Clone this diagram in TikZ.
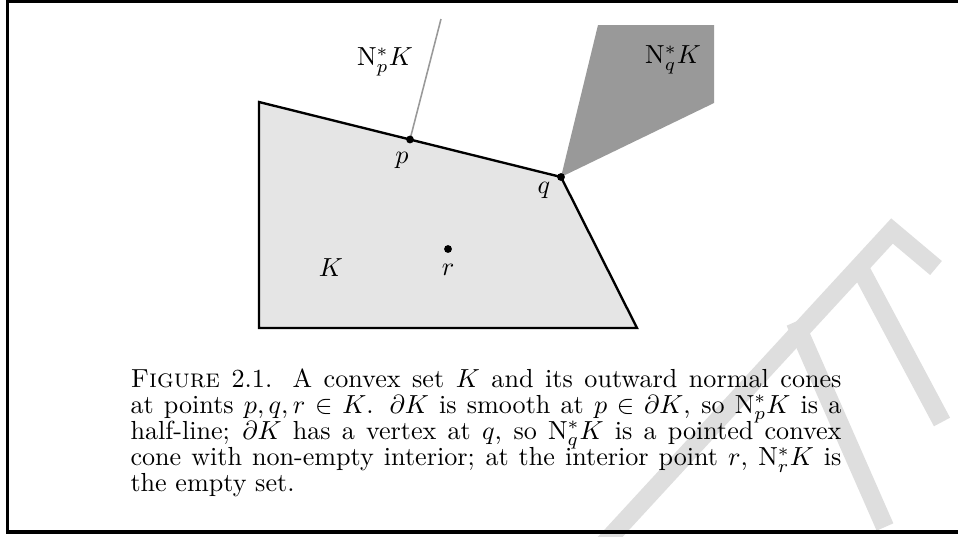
\documentclass[tikz,border=0pt]{standalone}
\usepackage{amsmath,amssymb}
\usepackage{tikz}
\usetikzlibrary{positioning,calc}
\newcommand{\ncone}[1]{\mathrm{N}^{*}_{#1}K}
\definecolor{setfill}{gray}{0.9}
\definecolor{conefill}{gray}{0.6}
\definecolor{raygray}{gray}{0.6}
\definecolor{wmark}{gray}{0.87}

\begin{document}
\begin{tikzpicture}[
    x=0.383pt, y=-0.383pt,
    font=\fontsize{10}{10}\selectfont,
    setedge/.style={draw=black, line width=0.9pt, fill=setfill},
    normalray/.style={draw=raygray, line width=0.6pt},
    dotpt/.style={circle, fill=black, inner sep=0pt, minimum size=3pt},
    lbl/.style={inner sep=0pt},
    wm/.style={draw=wmark, line width=7pt},
    frameline/.style={draw=black, line width=1.2pt},
    captxt/.style={inner sep=0pt, text width=272.3pt, align=justify,
                   execute at begin node={\lineskiplimit=-10pt}}
  ]
  \useasboundingbox (0,0) rectangle (958,536);

  % watermark in the background
  \draw[wm] (600,548) -- (892,231) -- (936,268);
  \draw[wm] (862,272) -- (942,422);
  \draw[wm] (795,322) -- (885,527);

  % frame
  \coordinate (ftl) at (7.5,1.3);
  \coordinate (ftr) at (958,1.3);
  \coordinate (fbl) at (7.5,532);
  \coordinate (fbr) at (958,532);
  \draw[frameline] (ftr) -- (ftl) -- (fbl) -- (fbr);

  % the convex set K
  \coordinate (a) at (259,102);
  \coordinate (p) at (410,139.5);
  \coordinate (q) at (561,177);
  \coordinate (b) at (637,328);
  \coordinate (c) at (259,328);
  \coordinate (r) at (448,249);
  \draw[setedge] (a) -- (p) -- (q) -- (b) -- (c) -- cycle;

  % normal cones
  \coordinate (np) at (441,19);
  \coordinate (nq1) at (598,25);
  \coordinate (nq2) at (714,25);
  \coordinate (nq3) at (714,103);
  \fill[conefill] (q) -- (nq1) -- (nq2) -- (nq3) -- cycle;
  \draw[normalray] (p) -- (np);

  \node[dotpt] (pdot) at (p) {};
  \node[dotpt] (qdot) at (q) {};
  \node[dotpt] (rdot) at (r) {};

  % labels
  \node[lbl] (lnp) at (385,62) {$\ncone{p}$};
  \node[lbl] (lnq) at (673,60) {$\ncone{q}$};
  \node[lbl] (lp) at (402,160) {$p$};
  \node[lbl] (lq) at (544,190) {$q$};
  \node[lbl] (lr) at (448,270) {$r$};
  \node[lbl] (lk) at (331,268) {$K$};

  % caption
  \node[captxt, anchor=north west] (cap) at (130,368) {\textsc{Figure} 2.1. A convex set $K$ and its outward normal cones\linebreak
    at points $p,q,r\in K$. $\partial K$ is smooth at $p\in\partial K$, so $\ncone{p}$ is a\linebreak
    half-line; $\partial K$ has a vertex at $q$, so $\ncone{q}$ is a pointed convex\linebreak
    cone with non-empty interior; at the interior point $r$, $\ncone{r}$ is\linebreak
    the empty set.};
\end{tikzpicture}
\end{document}
